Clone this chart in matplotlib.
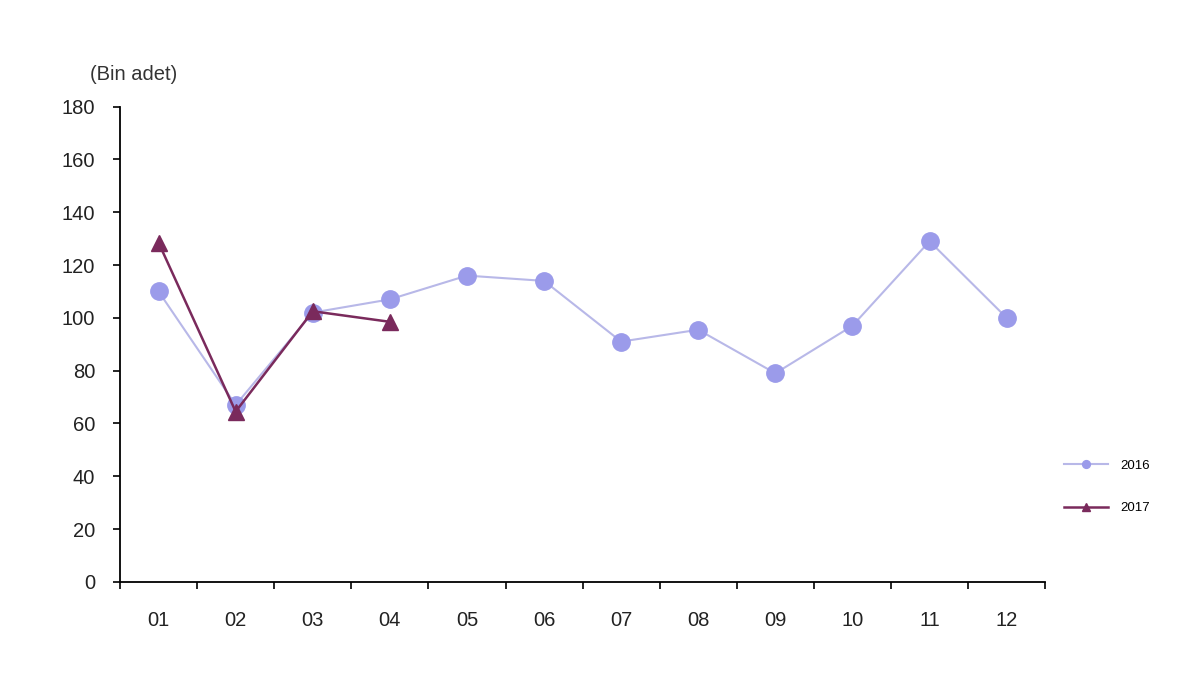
import matplotlib
matplotlib.use("Agg")
import matplotlib.pyplot as plt
import numpy as np

plt.rcParams['font.family'] = ['Liberation Sans', 'DejaVu Sans']

months = ['01', '02', '03', '04', '05', '06', '07', '08', '09', '10', '11', '12']
y2016 = [110, 67, 102, 107, 116, 114, 91, 95.5, 79, 97, 129, 100]
y2017 = [128.5, 64.5, 102.5, 98.5]

fig = plt.figure(figsize=(12, 6.75), dpi=100)
ax = fig.add_axes([0.1, 0.138, 0.771, 0.704])

x = np.arange(len(months))
ax.plot(x, y2016, color='#B8B8E8', lw=1.5, marker='o', ms=12.5,
        mfc='#9B9BEA', mec='#9B9BEA', label='2016', zorder=2)
ax.plot(x[:len(y2017)], y2017, color='#7A2A5C', lw=1.8, marker='^', ms=12,
        mfc='#7A2A5C', mec='#7A2A5C', label='2017', zorder=3)

ax.set_xlim(-0.5, len(months) - 0.5)
ax.set_ylim(0, 180)
ax.set_yticks(np.arange(0, 181, 20))
ax.set_xticks(x)
ax.set_xticklabels(months)
ax.set_xticks(np.arange(-0.5, len(months)), minor=True)
ax.tick_params(axis='x', which='major', length=0, pad=21, labelsize=14.5, colors='#222222')
ax.tick_params(axis='x', which='minor', length=5, width=1.2, direction='out')
ax.tick_params(axis='y', length=5, width=1.2, direction='out', labelsize=14.5, pad=13,
               labelcolor='#222222')
for s in ['top', 'right']:
    ax.spines[s].set_visible(False)
for s in ['left', 'bottom']:
    ax.spines[s].set_linewidth(1.3)

fig.text(0.075, 0.889, '(Bin adet)', fontsize=14.5, ha='left', va='center', color='#333333')

ax.legend(loc='center left', bbox_to_anchor=(1.008, 0.2), frameon=False,
          fontsize=9.5, markerscale=0.45, handlelength=3.3, handletextpad=0.9,
          labelspacing=2.3)

fig.savefig('out.png', dpi=100)
